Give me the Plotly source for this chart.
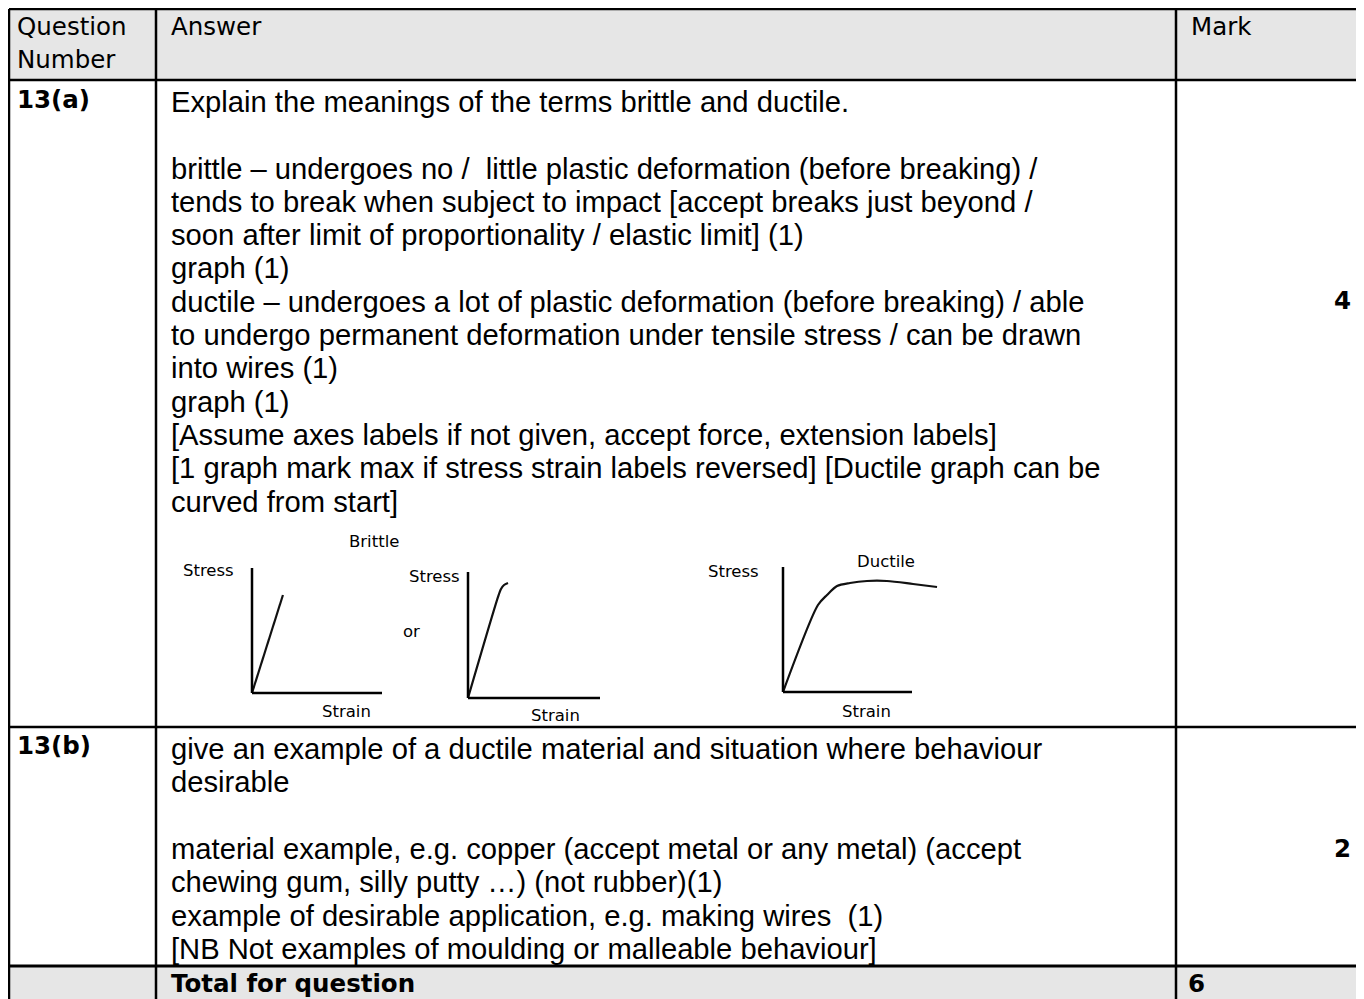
import plotly.graph_objects as go

# page is rendered with an 8px body margin, so the figure is offset by OFF
W, H = 1364, 999
OFF = 8
FW, FH = W - OFF, H - OFF

# ---------------- text data ----------------
header_labels = ["Question", "Number"]
header_answer = "Answer"
header_mark = "Mark"

q_numbers = ["13(a)", "13(b)"]
marks = ["4", "2"]
total_label = "Total for question"
total_mark = "6"

answer_a = [
    "Explain the meanings of the terms brittle and ductile.",
    "",
    "brittle \u2013 undergoes no /\u00a0 little plastic deformation (before breaking) /",
    "tends to break when subject to impact [accept breaks just beyond /",
    "soon after limit of proportionality / elastic limit] (1)",
    "graph (1)",
    "ductile \u2013 undergoes a lot of plastic deformation (before breaking) / able",
    "to undergo permanent deformation under tensile stress / can be drawn",
    "into wires (1)",
    "graph (1)",
    "[Assume axes labels if not given, accept force, extension labels]",
    "[1 graph mark max if stress strain labels reversed] [Ductile graph can be",
    "curved from start]",
]
answer_b = [
    "give an example of a ductile material and situation where behaviour",
    "desirable",
    "",
    "material example, e.g. copper (accept metal or any metal) (accept",
    "chewing gum, silly putty \u2026) (not rubber)(1)",
    "example of desirable application, e.g. making wires\u00a0 (1)",
    "[NB Not examples of moulding or malleable behaviour]",
]

# ---------------- sketch graph data (strain, stress; arbitrary units) ----------------
brittle1_strain = [0, 0.238]
brittle1_stress = [0, 0.784]
brittle2_strain = [0, 0.227, 0.25, 0.273, 0.303]
brittle2_stress = [0, 0.80, 0.865, 0.897, 0.913]
ductile_strain = [0, 0.271, 0.341, 0.419, 0.519, 0.651, 0.806, 1.008, 1.194]
ductile_stress = [0, 0.696, 0.776, 0.848, 0.872, 0.888, 0.888, 0.864, 0.84]
graph_axis_label_y = "Stress"
graph_axis_label_x = "Strain"
graph_titles = ["Brittle", "Ductile"]
or_label = "or"

# ---------------- helpers ----------------
def px(x):
    return (x - OFF) / FW

def py(y):
    return 1 - (y - OFF) / FH

HEAD_FONT = "DejaVu Sans"
BODY_FONT = "Liberation Sans, Arial"
BLACK = "#000000"
GREY = "#e6e6e6"

fig = go.Figure()
shapes = []
annotations = []

def add_text(x, y, text, size, family, anchor="left", bold=False):
    annotations.append(dict(
        x=px(x), y=py(y), xref="paper", yref="paper",
        text=f"<b>{text}</b>" if bold else text,
        showarrow=False, xanchor=anchor, yanchor="middle",
        font=dict(family=family, size=size, color=BLACK),
    ))

def hline(x0, x1, y, w=2.5):
    shapes.append(dict(type="line", xref="paper", yref="paper",
                       x0=px(x0), x1=px(x1), y0=py(y), y1=py(y),
                       line=dict(color=BLACK, width=w)))

def vline(x, y0, y1, w=2.5):
    shapes.append(dict(type="line", xref="paper", yref="paper",
                       x0=px(x), x1=px(x), y0=py(y0), y1=py(y1),
                       line=dict(color=BLACK, width=w)))

def rect(x0, y0, x1, y1, color):
    shapes.append(dict(type="rect", xref="paper", yref="paper",
                       x0=px(x0), x1=px(x1), y0=py(y0), y1=py(y1),
                       fillcolor=color, line=dict(width=0), layer="below"))

# ---------------- table geometry ----------------
L, T, R, B = 9, 9, 1372, 1005
C1, C2 = 156, 1176
R1, R2, R3 = 80, 727, 966

rect(L, T, R, R1, GREY)
rect(L, R3, R, B, GREY)

hline(L, R, T)
hline(L, R, R1)
hline(L, R, R2)
hline(L, R, R3, 3)
vline(L, T, B)
vline(C1, T, B)
vline(C2, T, B)

# header
add_text(15, 27, header_labels[0], 24.5, HEAD_FONT)
add_text(15, 59, header_labels[1], 24.5, HEAD_FONT)
add_text(169, 27, header_answer, 24.5, HEAD_FONT)
add_text(1189, 27, header_mark, 24.5, HEAD_FONT)

# question numbers
BOLD_SIZE = 24.5
add_text(15, 99, q_numbers[0], BOLD_SIZE, HEAD_FONT, bold=True)
add_text(15, 745, q_numbers[1], BOLD_SIZE, HEAD_FONT, bold=True)

# answer text
LS = 33.3
BODY = 29.2
for i, line in enumerate(answer_a):
    if line:
        add_text(169, 102 + i * LS, line, BODY, BODY_FONT)
for i, line in enumerate(answer_b):
    if line:
        add_text(169, 749 + i * LS, line, BODY, BODY_FONT)

# marks
add_text(1342, 300, marks[0], BOLD_SIZE, HEAD_FONT, anchor="center", bold=True)
add_text(1342, 848, marks[1], BOLD_SIZE, HEAD_FONT, anchor="center", bold=True)

# total row
add_text(169, 983, total_label, BOLD_SIZE, HEAD_FONT, bold=True)
add_text(1186, 983, total_mark, BOLD_SIZE, HEAD_FONT, bold=True)

# ---------------- mini graphs ----------------
# (origin px x, origin px y, unit width px, unit height px, x max)
frames = [
    (252, 693, 130, 125, 1.05),
    (468, 698, 132, 126, 1.05),
    (783, 692, 129, 125, 1.25),
]
series = [
    (brittle1_strain, brittle1_stress, "linear"),
    (brittle2_strain, brittle2_stress, "spline"),
    (ductile_strain, ductile_stress, "spline"),
]
PAD = 0.05
for k, ((ox, oy, uw, uh, xmax), (xs, ys, shape)) in enumerate(zip(frames, series), start=2):
    dx0 = ox - PAD * uw
    dx1 = ox + xmax * uw
    dy_bottom = oy + PAD * uh
    dy_top = oy - 1.05 * uh
    fig.add_trace(go.Scatter(
        x=xs, y=ys, mode="lines", xaxis=f"x{k}", yaxis=f"y{k}",
        line=dict(color="#111111", width=2.2, shape=shape, smoothing=0.8),
        hoverinfo="skip", showlegend=False,
    ))
    fig.layout[f"xaxis{k}"] = dict(domain=[px(dx0), px(dx1)], range=[-PAD, xmax],
                                   visible=False, anchor=f"y{k}", fixedrange=True)
    fig.layout[f"yaxis{k}"] = dict(domain=[py(dy_bottom), py(dy_top)], range=[-PAD, 1.05],
                                   visible=False, anchor=f"x{k}", fixedrange=True)
    shapes.append(dict(type="line", xref=f"x{k}", yref=f"y{k}", x0=0, x1=0, y0=0, y1=1,
                       line=dict(color=BLACK, width=2.5)))
    shapes.append(dict(type="line", xref=f"x{k}", yref=f"y{k}", x0=0, x1=1, y0=0, y1=0,
                       line=dict(color=BLACK, width=2.5)))

LBL = 16.5
add_text(208, 570, graph_axis_label_y, LBL, HEAD_FONT, anchor="center")
add_text(346, 711, graph_axis_label_x, LBL, HEAD_FONT, anchor="center")
add_text(374, 541, graph_titles[0], LBL, HEAD_FONT, anchor="center")
add_text(434, 576, graph_axis_label_y, LBL, HEAD_FONT, anchor="center")
add_text(411, 631, or_label, LBL, HEAD_FONT, anchor="center")
add_text(555, 715, graph_axis_label_x, LBL, HEAD_FONT, anchor="center")
add_text(733, 571, graph_axis_label_y, LBL, HEAD_FONT, anchor="center")
add_text(886, 561, graph_titles[1], LBL, HEAD_FONT, anchor="center")
add_text(866, 711, graph_axis_label_x, LBL, HEAD_FONT, anchor="center")

fig.update_layout(
    width=FW, height=FH,
    margin=dict(l=0, r=0, t=0, b=0),
    paper_bgcolor="white", plot_bgcolor="rgba(0,0,0,0)",
    shapes=shapes, annotations=annotations, showlegend=False,
)

fig.write_html("out.html", config={"displayModeBar": False})
